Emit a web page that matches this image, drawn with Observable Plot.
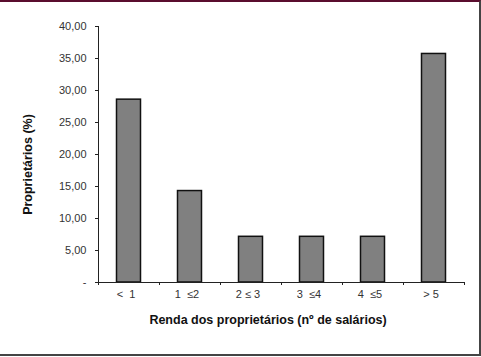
<!DOCTYPE html>
<html><head><meta charset="utf-8">
<script src="https://cdn.jsdelivr.net/npm/d3@7"></script>
<script src="https://cdn.jsdelivr.net/npm/@observablehq/plot@0.6"></script>
<style>
body{margin:0;background:#fff;}
#wrap{position:relative;width:481px;height:357px;overflow:hidden;}
#frame{position:absolute;left:0;top:0;width:481px;height:356px;box-sizing:border-box;border-top:2px solid #5a0d2e;border-right:2px solid #444;border-bottom:2px solid #444;pointer-events:none;}
svg{font-family:Arial,"Liberation Sans",sans-serif;}
</style></head>
<body><div id="wrap"><div id="frame"></div></div>
<script>
const categories = ["<\u00a0\u00a01", "1\u00a0\u00a0≤2", "2 ≤ 3", "3\u00a0\u00a0≤4", "4\u00a0\u00a0≤5", ">\u00a05"];
const values = [28.57, 14.29, 7.14, 7.14, 7.14, 35.71];
const yTicks = [0, 5, 10, 15, 20, 25, 30, 35, 40];
const xTitle = "Renda dos proprietários (nº de salários)";
const yTitle = "Proprietários (%)";

const data = categories.map((c, i) => ({c, i, v: values[i]}));
const fmt = d => d === 0 ? "-" : d.toFixed(2).replace(".", ",");

const chart = Plot.plot({
  width: 481, height: 357,
  marginLeft: 98, marginRight: 17, marginTop: 26, marginBottom: 75,
  style: {fontFamily: "Arial, 'Liberation Sans', sans-serif", fontSize: "11px", color: "#333", background: "transparent"},
  x: {type: "linear", domain: [0, categories.length], axis: null},
  y: {domain: [0, 40], axis: null},
  marks: [
    Plot.axisY(yTicks, {tickFormat: fmt, tickSize: 3, tickPadding: 9, label: null, fontSize: 11, stroke: "#222"}),
    Plot.axisX(d3.range(categories.length + 1), {tickFormat: () => "", tickSize: 3, label: null, stroke: "#222"}),
    Plot.rect(data, {x1: "i", x2: d => d.i + 1, y1: 0, y2: "v", insetLeft: 18.5, insetRight: 18.5, fill: "#808080", stroke: "#111", strokeWidth: 1.5}),
    Plot.ruleX([0], {stroke: "#222"}),
    Plot.ruleY([0], {stroke: "#222", x1: 0, x2: categories.length}),
    Plot.text(data, {x: d => d.i + 0.5, y: 0, text: "c", dy: 12, dx: -3, fontSize: 11, fill: "#333"}),
    Plot.text([xTitle], {frameAnchor: "bottom", dy: 41, dx: -13.5, fontSize: 12.5, fontWeight: "bold", fill: "#111"}),
    Plot.text([yTitle], {frameAnchor: "left", textAnchor: "middle", rotate: -90, dx: -70.5, dy: 10, fontSize: 12.5, fontWeight: "bold", fill: "#111"})
  ]
});
document.getElementById("wrap").prepend(chart);
</script></body></html>
